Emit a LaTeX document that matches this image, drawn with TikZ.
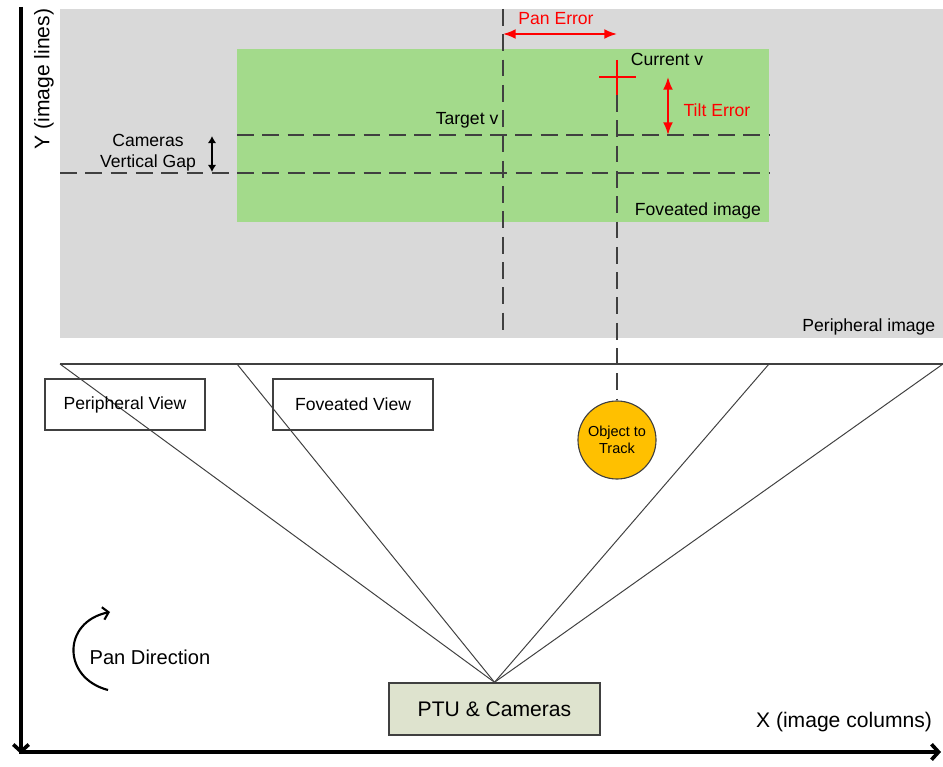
\documentclass[tikz,border=0pt]{standalone}
\usepackage{fontspec}
\setmainfont{Liberation Sans}
\usetikzlibrary{arrows.meta}

\definecolor{periph}{RGB}{217,217,217}
\definecolor{fovea}{RGB}{163,218,139}
\definecolor{target}{RGB}{255,192,0}
\definecolor{ptu}{RGB}{222,227,206}
\definecolor{guide}{RGB}{64,64,64}

\begin{document}
\begin{tikzpicture}[x=0.025cm, y=-0.025cm,
    txt/.style={font=\fontsize{12.5}{15}\selectfont, inner sep=1pt},
    errtxt/.style={txt, text=red},
    viewbox/.style={draw=guide, line width=1pt, minimum width=4cm, minimum height=1.275cm, txt},
    guideline/.style={draw=guide, line width=1pt, dash pattern=on 12pt off 6pt},
    ray/.style={draw=guide, line width=0.7pt},
    errarrow/.style={red, line width=1.3pt, {Latex[length=9pt,width=7pt]}-{Latex[length=9pt,width=7pt]}},
    axis/.style={line width=2.6pt, -{Straight Barb[length=5pt,width=11pt]}}]
      \useasboundingbox (0,0) rectangle (943,767);

      % image planes
      \fill [periph] (60,9) rectangle (943,338);
      \fill [fovea] (237,49) rectangle (769,222);
      \node [txt, anchor=east] (periimg) at (937,327) {Peripheral image};
      \node [txt] (fovimg) at (698,211) {Foveated image};

      % target / current lines
      \draw [guideline] (237,135) -- (769,135);
      \draw [guideline] (60,173) -- (769,173);
      \draw [guideline] (503,9) -- (503,338);
      \node [txt, anchor=east] (targetv) at (500,120) {Target v};
      \node [txt] (currentv) at (667,59) {Current v};
      \coordinate (cur) at (617,77);
      \draw [red, line width=1.3pt] (599,77) -- (636,77) (617,60) -- (617,95);

      % errors
      \coordinate (panl) at (503,34);
      \coordinate (panr) at (617,34);
      \draw [errarrow] (panl) -- (panr);
      \node [errtxt] (panerr) at (556,19) {Pan Error};
      \coordinate (tiltt) at (668,77);
      \coordinate (tiltb) at (668,135);
      \draw [errarrow] (tiltt) -- (tiltb);
      \node [errtxt] (tilterr) at (717,110) {Tilt Error};

      \node [txt, align=center] (gap) at (148,153) {Cameras\\Vertical Gap};
      \coordinate (gapt) at (212,136);
      \coordinate (gapb) at (212,172);
      \draw [line width=1pt, {Latex[length=5pt,width=6pt]}-{Latex[length=5pt,width=6pt]}] (gapt) -- (gapb);

      % views
      \node [draw=guide, line width=1pt, fill=ptu, minimum width=5.275cm, minimum height=1.3cm,
             font=\fontsize{15}{18}\selectfont] (ptu) at (494.5,709) {PTU \& Cameras};
      \coordinate (pl) at (60,364);
      \coordinate (fl) at (237,364);
      \coordinate (fr) at (769,364);
      \coordinate (pr) at (943,364);
      \draw [ray, line width=1.3pt] (pl) -- (pr);
      \foreach \c in {pl,fl,fr,pr}
        \draw [ray] (\c) -- (ptu.north);
      \node [viewbox] (periview) at (125,404.5) {Peripheral View};
      \node [viewbox] (fovview) at (353,404.5) {Foveated View};

      \node [circle, draw=guide, line width=0.8pt, fill=target, minimum size=1.95cm, inner sep=0pt,
             align=center, font=\fontsize{10.3}{12}\selectfont] (obj) at (617,440) {Object to\\Track};
      \draw [guideline] (cur) ++(0,18) -- (obj.north);

      % pan direction
      \coordinate (pdb) at (108,690);
      \coordinate (pdt) at (110,612);
      \draw [line width=1.5pt, -{Straight Barb[length=4pt,width=9pt]}] (pdb) .. controls (62,678) and (62,622) .. (pdt);
      \node [font=\fontsize{14.3}{17}\selectfont] (pandir) at (150,657) {Pan Direction};

      % axes
      \coordinate (o) at (21,752);
      \draw [axis] (21,7) -- (21,754);
      \draw [axis] (19,752) -- (941,752);
      \node [font=\fontsize{15}{18}\selectfont, rotate=90] (ylab) at (44,79) {Y (image lines)};
      \node [font=\fontsize{15}{18}\selectfont] (xlab) at (844,722) {X (image columns)};
    \end{tikzpicture}
\end{document}
